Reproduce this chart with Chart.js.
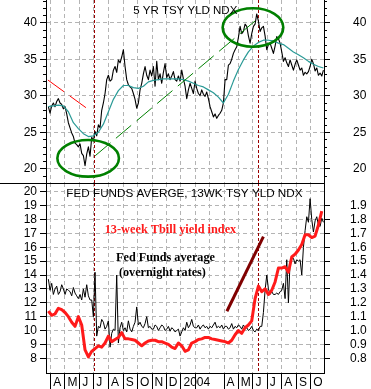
<!DOCTYPE html>
<html><head><meta charset="utf-8">
<script src="https://cdn.jsdelivr.net/npm/chart.js@4.4.1/dist/chart.umd.min.js"></script>
<style>
html,body{margin:0;padding:0;background:#fff;}
#wrap{position:relative;width:371px;height:389px;overflow:hidden;background:#fff;}
canvas{position:absolute;left:0;}
#top{top:0;}
#bot{top:183px;}
</style></head><body>
<div id="wrap">
<canvas id="top" width="371" height="183"></canvas>
<canvas id="bot" width="371" height="206"></canvas>
</div>
<script>
// ---------- DATA ----------
const axisStart = '2003-03-22';
const axisEnd = '2004-10-29';
const monthTickDates = ['2003-04-01','2003-05-01','2003-06-01','2003-07-01','2003-08-01','2003-09-01','2003-10-01','2003-11-01','2003-12-01','2004-01-01','2004-02-01','2004-03-01','2004-04-01','2004-05-01','2004-06-01','2004-07-01','2004-08-01','2004-09-01','2004-10-01'];
const monthTickLabels = ['A','M','J','J','A','S','O','N','D','2004','','','A','M','J','J','A','S','O'];
const monthTickSeparator = [1,1,1,1,1,1,1,1,1,1,1,0,1,1,1,1,1,1,1];

const yieldTicks = [20,25,30,35,40];
const rateTicksLeft = [8,9,10,11,12,13,14,15,16,17,18,19,20];
const rateTicksRight = [0.8,0.9,1.0,1.1,1.2,1.3,1.4,1.5,1.6,1.7,1.8,1.9];

// 5 YR TSY YLD NDX (x10)
const yieldStart = '2003-03-27';
const yieldStepDays = 3.52;
const fiveYrYield = [28.5,27.6,28.6,29.0,28.5,29.2,29.6,29.0,28.8,28.2, 28.5,27.5,26.3,25.6,24.9,24.4,23.5,23.3,23.0,23.4, 22.1,21.8,20.4,22.0,23.0,21.7,24.3,23.8,25.1,24.5, 26.0,25.6,28.0,29.0,30.3,32.2,32.8,32.0,32.2,33.5, 34.0,33.2,34.9,34.5,35.3,36.3,34.0,32.2,31.5,31.2, 31.0,30.3,29.5,28.3,29.0,30.8,31.7,33.0,34.0,32.8, 32.2,33.5,32.7,34.0,31.3,34.7,32.2,33.0,31.7,33.2, 34.4,32.5,33.0,32.2,32.7,33.3,32.2,32.0,32.7,32.0, 33.5,32.3,31.3,29.6,30.8,31.7,31.0,30.3,32.0,31.0, 30.3,30.0,30.8,30.2,29.9,30.5,29.6,28.5,27.8,27.1, 27.5,26.9,27.3,27.6,28.0,29.0,32.2,32.2,34.2,34.4, 35.0,35.8,36.3,36.7,38.0,39.5,38.5,38.8,39.8,39.5, 38.2,37.2,38.5,39.5,39.8,41.2,40.2,38.8,39.3,39.5, 38.2,36.3,37.0,37.2,36.5,35.8,36.8,38.1,37.8,37.2, 36.0,34.7,35.2,34.5,34.0,34.9,34.2,33.5,34.3,34.9, 34.2,33.5,33.8,32.8,33.2,33.0,33.3,34.0,35.0,34.4, 33.4,33.8,32.8,33.1,32.7,33.5];

// moving average of the 5 YR yield
const avgStart = '2003-03-27';
const avgStepDays = 10.56;
const fiveYrAverage = [28.5,28.6,28.7,28.6,27.8,26.3,25.5,24.8,24.4,24.5, 25.0,26.1,27.8,29.5,30.7,31.4,31.4,31.1,31.0,31.3, 31.9,32.1,32.2,32.3,32.3,32.3,32.3,32.2,32.0,31.7, 31.4,31.2,30.8,30.4,29.8,29.0,30.2,32.0,33.6,34.9, 36.0,36.8,37.3,37.6,37.6,37.5,37.2,37.0,36.5,36.0, 35.6,35.2,34.7,34.3,34.0,33.8];

// Fed funds average (x10)
const fedStart = '2003-03-27';
const fedStepDays = 3.52;
const fedFunds = [13.7,12.9,13.4,12.6,13.0,13.2,12.6,12.8,13.3,13.0, 12.6,13.0,12.9,12.8,12.5,13.1,12.7,12.5,12.3,12.6, 12.2,13.0,12.4,13.3,12.5,12.2,12.2,11.0,14.2,9.6, 10.3,10.2,10.8,10.6,10.1,10.3,10.7,8.8,9.8,10.1, 10.0,14.0,9.1,10.2,10.6,10.0,10.2,9.9,10.7,10.1, 9.9,10.3,10.6,11.7,10.4,10.6,10.3,10.2,10.5,11.0, 10.2,10.3,10.1,10.1,10.4,10.3,10.0,10.2,10.4,10.3, 10.0,10.1,10.3,9.95,10.2,10.1,9.9,10.0,10.1,9.6, 9.9,10.2,10.0,10.6,10.2,10.4,10.8,10.3,10.2,10.2, 10.4,10.1,10.3,10.4,10.2,10.3,10.1,10.3,10.2,10.4, 10.6,10.2,10.3,10.2,10.4,10.1,10.3,10.3,10.1,10.2, 10.5,10.1,10.3,10.2,10.4,10.3,10.1,10.4,10.2,10.2, 10.0,10.1,10.3,10.0,9.9,10.1,10.0,10.3,10.3,11.3, 12.9,14.0,13.0,12.6,12.8,12.6,12.6,12.7,12.6,12.8, 12.9,13.4,12.3,15.1,12.0,15.0,15.2,15.2,14.8,15.1, 15.0,15.1,14.0,16.0,17.2,18.2,17.8,19.5,18.0,17.1, 17.9,18.2,17.6,17.5,18.1,17.8];

// 13 week T-bill yield (x10)
const tbillStart = '2003-03-27';
const tbillStepDays = 7.04;
const tbill = [11.4,11.1,11.2,11.6,11.5,11.3,11.0,10.6,10.3,11.0, 10.4,8.6,8.1,8.5,8.7,8.9,8.8,9.1,9.6,9.2, 9.35,9.5,9.85,9.4,9.4,9.35,9.3,9.1,8.9,9.1, 9.25,9.3,9.3,9.2,9.2,9.1,9.0,8.8,8.7,9.1, 8.9,8.5,8.6,9.1,9.2,9.35,9.4,9.5,9.5,9.4, 9.35,9.3,9.25,9.2,9.1,9.3,9.7,10.0,9.8,10.2, 10.4,10.7,12.3,13.2,12.8,13.0,12.6,12.9,13.5,14.5, 14.5,14.6,14.2,15.3,15.5,15.8,16.2,16.9,16.9,16.7, 16.8,17.6,18.6];

// annotations (data coordinates: date, value)
const eventDates = ['2003-07-02','2004-06-11'];
const redTrend = [['2003-03-26',32.15],['2003-06-19',28.14]];
const greenTrend = [['2003-07-04',21.78],['2004-06-06',40.27]];
const ellipses = [
  {date:'2003-06-19', value:21.42, rxDays:65, ryValue:2.51},
  {date:'2004-06-01', value:39.34, rxDays:64, ryValue:2.63}
];
const hikeLine = [['2004-04-07',11.39],['2004-06-23',16.77]];
const topTexts = [{text:'5 YR TSY YLD NDX', date:'2003-09-22', value:41.6, font:'11.5px "Liberation Sans", Arial', color:'#000'}];
const botTexts = [
  {text:'FED FUNDS AVERGE, 13WK TSY YLD NDX', date:'2003-05-04', value:19.88, font:'11.7px "Liberation Sans", Arial', color:'#000'},
  {text:'13-week Tbill yield index', date:'2003-07-24', value:17.25, font:'bold 12.3px "Liberation Serif", "Times New Roman", serif', color:'#ff1a1a'},
  {text:'Fed Funds average', date:'2003-08-17', value:15.22, font:'bold 12.2px "Liberation Serif", "Times New Roman", serif', color:'#000'},
  {text:'(overnight rates)', date:'2003-08-23', value:14.14, font:'bold 12.2px "Liberation Serif", "Times New Roman", serif', color:'#000'}
];

// ---------- HELPERS ----------
const DAY = 86400000;
function dayOf(s){ const p = s.split('-').map(Number); return (Date.UTC(p[0],p[1]-1,p[2]) - Date.UTC(2003,0,1))/DAY; }
function series(start, step, vals){ const d0 = dayOf(start); return vals.map((v,i)=>({x: d0 + i*step, y: v})); }

Chart.defaults.font.family = '"Liberation Sans", Arial, sans-serif';
Chart.defaults.font.size = 12;
Chart.defaults.color = '#000';

const GRID = '#b4b4b4';
const DASH = [4,3];

function xAxis(showLabels){
  return {
    type:'linear', min: dayOf(axisStart), max: dayOf(axisEnd),
    afterBuildTicks: s => { s.ticks = monthTickDates.map(d => ({value: dayOf(d)})); },
    afterFit: s => { s.height = showLabels ? 16 : 0; s.paddingLeft = 0; s.paddingRight = 0; },
    ticks: { display: showLabels, autoSkip:false, maxRotation:0, minRotation:0, align:'start', labelOffset:2.5, padding:-13.5,
             callback: (v,i) => monthTickLabels[i], font:{size:12}, color:'#000' },
    grid: { color: GRID, lineWidth:1, drawTicks: showLabels, tickLength:16, tickWidth:1,
            tickColor: c => monthTickSeparator[c.index] ? '#000' : 'rgba(0,0,0,0)' },
    border: { display: showLabels, color:'#000', width:1, dash: DASH }
  };
}
function yAxis(pos, min, max, ticks, width, pad, fmt, gridOn){
  return {
    position: pos, min, max,
    afterBuildTicks: s => { s.ticks = ticks.map(v => ({value: v})); },
    afterFit: s => { s.width = width; s.paddingTop = 0; s.paddingBottom = 0; },
    ticks: { autoSkip:false, padding: pad, callback: v => fmt(v), font:{size:12}, color:'#000', crossAlign:'near' },
    grid: { color: GRID, lineWidth:1, drawOnChartArea: gridOn, drawTicks:true, tickLength:6, tickColor:'#000', tickWidth:1 },
    border: { display:true, color:'#000', width:1, dash: DASH }
  };
}
function drawEvents(ctx, x, a){
  ctx.save();
  ctx.strokeStyle = '#9a0000'; ctx.lineWidth = 1; ctx.setLineDash([3,2]);
  for (const d of eventDates){
    const px = Math.round(x.getPixelForValue(dayOf(d))) + 0.5;
    ctx.beginPath(); ctx.moveTo(px, a.top); ctx.lineTo(px, a.bottom); ctx.stroke();
  }
  ctx.restore();
}
function drawSeg(ctx, x, y, seg, color, width, dash){
  ctx.save();
  ctx.strokeStyle = color; ctx.lineWidth = width; ctx.setLineDash(dash);
  ctx.beginPath();
  ctx.moveTo(x.getPixelForValue(dayOf(seg[0][0])), y.getPixelForValue(seg[0][1]));
  ctx.lineTo(x.getPixelForValue(dayOf(seg[1][0])), y.getPixelForValue(seg[1][1]));
  ctx.stroke();
  ctx.restore();
}
function drawTexts(ctx, x, y, list){
  ctx.save();
  ctx.textAlign = 'left'; ctx.textBaseline = 'middle';
  for (const t of list){
    ctx.font = t.font; ctx.fillStyle = t.color;
    ctx.fillText(t.text, x.getPixelForValue(dayOf(t.date)), y.getPixelForValue(t.value));
  }
  ctx.restore();
}

const topDeco = {
  id:'topDeco',
  beforeDatasetsDraw(chart){
    const {ctx, chartArea:a, scales:{x}} = chart;
    drawEvents(ctx, x, a);
  },
  afterDatasetsDraw(chart){
    const {ctx, chartArea:a, scales:{x, y}} = chart;
    ctx.save();
    ctx.beginPath(); ctx.rect(a.left, a.top, a.right-a.left, a.bottom-a.top); ctx.clip();
    drawSeg(ctx, x, y, redTrend, '#ff0000', 1, [20,7]);
    drawSeg(ctx, x, y, greenTrend, '#008000', 1, [20,7]);
    ctx.strokeStyle = '#008000'; ctx.lineWidth = 2.6; ctx.setLineDash([]);
    for (const e of ellipses){
      const cx = x.getPixelForValue(dayOf(e.date)), cy = y.getPixelForValue(e.value);
      const rx = Math.abs(x.getPixelForValue(dayOf(e.date)+e.rxDays) - cx);
      const ry = Math.abs(y.getPixelForValue(e.value+e.ryValue) - cy);
      ctx.beginPath(); ctx.ellipse(cx, cy, rx, ry, 0, 0, Math.PI*2); ctx.stroke();
    }
    ctx.restore();
    drawTexts(ctx, x, y, topTexts);
  },
  afterDraw(chart){
    const {ctx, chartArea:a, scales:{y}} = chart;
    ctx.save(); ctx.strokeStyle = '#000'; ctx.lineWidth = 1;
    for (let v = Math.ceil(y.min); v <= Math.floor(y.max); v++){
      if (yieldTicks.includes(v)) continue;
      const py = Math.round(y.getPixelForValue(v)) + 0.5;
      ctx.beginPath();
      ctx.moveTo(a.left-3, py); ctx.lineTo(a.left, py);
      ctx.moveTo(a.right, py); ctx.lineTo(a.right+3, py);
      ctx.stroke();
    }
    ctx.restore();
  }
};

const botDeco = {
  id:'botDeco',
  beforeDatasetsDraw(chart){
    const {ctx, chartArea:a, scales:{x}} = chart;
    drawEvents(ctx, x, a);
  },
  afterDatasetsDraw(chart){
    const {ctx, chartArea:a, scales:{x, y}} = chart;
    drawSeg(ctx, x, y, hikeLine, '#800000', 3, []);
    drawTexts(ctx, x, y, botTexts);
  },
  afterDraw(chart){
    const {ctx, chartArea:a} = chart;
    ctx.save(); ctx.strokeStyle = '#000'; ctx.lineWidth = 1;
    ctx.beginPath(); ctx.moveTo(0, a.top+0.5); ctx.lineTo(a.right+1, a.top+0.5); ctx.stroke();
    ctx.restore();
  }
};

const common = {
  responsive:false, animation:false, devicePixelRatio:1,
  layout:{ padding:0, autoPadding:false },
  plugins:{ legend:{display:false}, tooltip:{enabled:false}, title:{display:false} },
  elements:{ point:{radius:0}, line:{tension:0, borderJoinStyle:'round'} },
  events: []
};

new Chart(document.getElementById('top'), {
  type:'line',
  data:{ datasets:[
    { data: series(avgStart, avgStepDays, fiveYrAverage), borderColor:'#2a9a96', borderWidth:1.2, pointRadius:0, fill:false },
    { data: series(yieldStart, yieldStepDays, fiveYrYield), borderColor:'#000', borderWidth:1.1, pointRadius:0, fill:false }
  ]},
  options: Object.assign({}, common, {
    scales:{
      x: xAxis(false),
      y: yAxis('left', 18.04, 43.11, yieldTicks, 46, 3, v => String(v), true),
      y2: yAxis('right', 18.04, 43.11, yieldTicks, 47, 23, v => String(v), false)
    }
  }),
  plugins:[topDeco]
});

new Chart(document.getElementById('bot'), {
  type:'line',
  data:{ datasets:[
    { data: series(tbillStart, tbillStepDays, tbill), borderColor:'#ff1a1a', borderWidth:3, pointRadius:0, fill:false, yAxisID:'y' },
    { data: series(fedStart, fedStepDays, fedFunds), borderColor:'#000', borderWidth:1, pointRadius:0, fill:false, yAxisID:'y' }
  ]},
  options: Object.assign({}, common, {
    scales:{
      x: xAxis(true),
      y: yAxis('left', 6.94, 20.63, rateTicksLeft, 46, 3, v => String(v), true),
      y2: yAxis('right', 0.694, 2.063, rateTicksRight, 47, 20, v => v.toFixed(1), false)
    }
  }),
  plugins:[botDeco]
});
</script>
</body></html>
